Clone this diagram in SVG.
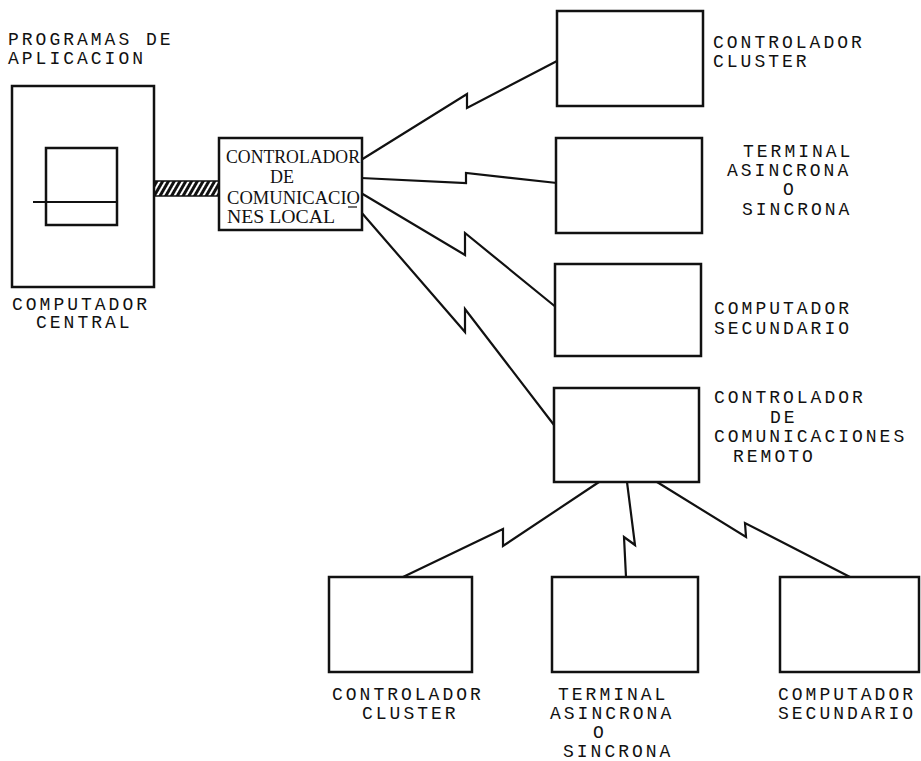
<svg xmlns="http://www.w3.org/2000/svg" width="921" height="761" viewBox="0 0 921 761">
<style>
.box{fill:#fff;stroke:#111;stroke-width:2.5}
.ln{fill:none;stroke:#111;stroke-width:2.2;stroke-linejoin:miter}
.t{font-family:"Liberation Mono","DejaVu Sans Mono",monospace;font-size:18px;letter-spacing:3px;fill:#111}
.s{font-family:"Liberation Serif","Times New Roman",serif;font-size:19px;fill:#111}
</style>
<defs>
<pattern id="hatch" patternUnits="userSpaceOnUse" width="5" height="5" patternTransform="rotate(30)">
<line x1="1.5" y1="0" x2="1.5" y2="5" stroke="#111" stroke-width="3"/>
</pattern>
</defs>
<rect width="921" height="761" fill="#fff"/>

<g id="connectors">
<rect x="154" y="181" width="65" height="15" fill="url(#hatch)" stroke="#111" stroke-width="1.5"/>
<polyline class="ln" points="361,160 467,94 467,108 557,61"/>
<polyline class="ln" points="361,178 466,183 466,173 557,183"/>
<polyline class="ln" points="361,193 465,255 465,233 557,308"/>
<polyline class="ln" points="361,212 465,332 465,309 554,425"/>
<polyline class="ln" points="599,482 503,546 503,529 403,577"/>
<polyline class="ln" points="627,482 635,545 624,537 626,577"/>
<polyline class="ln" points="657,482 746,537 745,523 850,577"/>
</g>

<g id="computador-central">
<rect class="box" x="12" y="86" width="142" height="201"/>
<rect class="box" x="46" y="148" width="71" height="77"/>
<line x1="33" y1="202" x2="117" y2="202" stroke="#111" stroke-width="2"/>
<text class="t" x="8" y="45">PROGRAMAS DE</text>
<text class="t" x="8" y="64">APLICACION</text>
<text class="t" x="12" y="310">COMPUTADOR</text>
<text class="t" x="36" y="328">CENTRAL</text>
</g>

<g id="controlador-local">
<rect class="box" x="219" y="138" width="143" height="92"/>
<text class="s" x="226" y="163" textLength="134" lengthAdjust="spacingAndGlyphs">CONTROLADOR</text>
<text class="s" x="270" y="183" textLength="24" lengthAdjust="spacingAndGlyphs">DE</text>
<text class="s" x="227" y="204" textLength="133" lengthAdjust="spacingAndGlyphs">COMUNICACIO</text>
<text class="s" x="227" y="223" textLength="108" lengthAdjust="spacingAndGlyphs">NES LOCAL</text>
<line x1="348" y1="207" x2="357" y2="207" stroke="#111" stroke-width="1.2"/>
</g>

<g id="controlador-cluster-1">
<rect class="box" x="557" y="11" width="146" height="95"/>
<text class="t" x="713" y="48">CONTROLADOR</text>
<text class="t" x="713" y="67">CLUSTER</text>
</g>

<g id="terminal-1">
<rect class="box" x="556" y="138" width="146" height="95"/>
<text class="t" x="743" y="157">TERMINAL</text>
<text class="t" x="727" y="176">ASINCRONA</text>
<text class="t" x="783" y="195">O</text>
<text class="t" x="742" y="215">SINCRONA</text>
</g>

<g id="computador-secundario-1">
<rect class="box" x="555" y="264" width="146" height="92"/>
<text class="t" x="714" y="314">COMPUTADOR</text>
<text class="t" x="714" y="334">SECUNDARIO</text>
</g>

<g id="controlador-remoto">
<rect class="box" x="554" y="388" width="145" height="94"/>
<text class="t" x="714" y="403">CONTROLADOR</text>
<text class="t" x="770" y="423">DE</text>
<text class="t" x="714" y="442">COMUNICACIONES</text>
<text class="t" x="733" y="462">REMOTO</text>
</g>

<g id="controlador-cluster-2">
<rect class="box" x="329" y="577" width="143" height="95"/>
<text class="t" x="332" y="700">CONTROLADOR</text>
<text class="t" x="362" y="719">CLUSTER</text>
</g>

<g id="terminal-2">
<rect class="box" x="552" y="577" width="146" height="95"/>
<text class="t" x="558" y="700">TERMINAL</text>
<text class="t" x="550" y="719">ASINCRONA</text>
<text class="t" x="593" y="738">O</text>
<text class="t" x="563" y="757">SINCRONA</text>
</g>

<g id="computador-secundario-2">
<rect class="box" x="780" y="577" width="139" height="95"/>
<text class="t" x="778" y="700">COMPUTADOR</text>
<text class="t" x="778" y="719">SECUNDARIO</text>
</g>
</svg>
